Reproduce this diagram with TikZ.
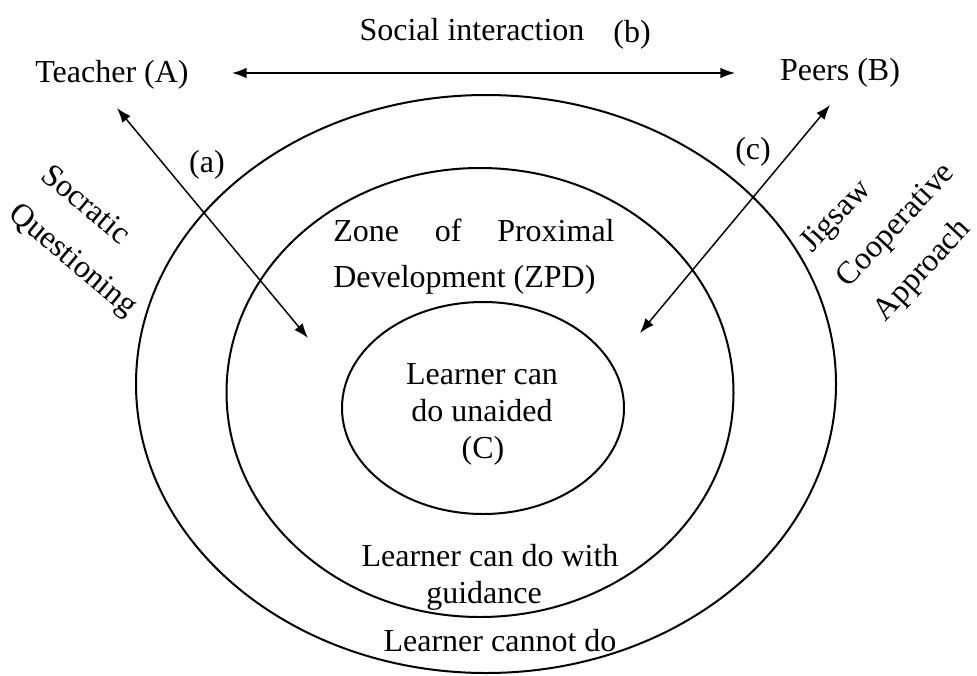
\documentclass[tikz,border=0pt]{standalone}
\usepackage{fontspec}
\setmainfont{Liberation Serif}
\usetikzlibrary{arrows.meta,shapes.geometric}
\begin{document}
\begin{tikzpicture}[x=0.75pt,y=-0.75pt,
  lbl/.style={font=\fontsize{24}{28}\selectfont, inner sep=0pt, anchor=base},
  ring/.style={draw, ellipse, line width=1.5pt, inner sep=0pt},
  conn/.style={{Latex[length=11pt,width=8pt]}-{Latex[length=11pt,width=8pt]}, line width=1.1pt},
  slanted/.style={font=\fontsize{24}{37.5}\selectfont, align=left, inner sep=0pt}]
\useasboundingbox (0,0) rectangle (977,675);

% ellipses
\node[ring, minimum width=525pt, minimum height=433.5pt] (outer) at (486,384) {};
\node[ring, minimum width=380.25pt, minimum height=336.75pt] (middle) at (480,392.5) {};
\node[ring, minimum width=211.5pt, minimum height=159pt] (inner) at (483,408) {};

% top labels
\node[lbl] (social) at (472,40) {Social interaction};
\node[lbl] (b) at (632,42) {(b)};
\node[lbl] (teacher) at (112,82) {Teacher (A)};
\node[lbl] (peers) at (840,80) {Peers (B)};
\coordinate (hl) at (232,73);
\coordinate (hr) at (735,73);
\draw[conn] (hl) -- (hr);

% diagonal arrows
\coordinate (a1) at (117,108);
\coordinate (a2) at (308,338);
\draw[conn] (a1) -- (a2);
\coordinate (c1) at (830,105);
\coordinate (c2) at (640,333);
\draw[conn] (c1) -- (c2);
\node[lbl] (la) at (207,172) {(a)};
\node[lbl] (lc) at (753,159) {(c)};

% rotated labels
\node[slanted, rotate=-40] (socratic) at (88,242) {Socratic\\Questioning};
\node[slanted, rotate=47] (jigsaw) at (897,226) {Jigsaw\\Cooperative\\Approach};

% ZPD text
\node[lbl, anchor=base west] (zone) at (333,241) {\makebox[211pt][s]{Zone of Proximal}};
\node[lbl, anchor=base west] (dev) at (333,287) {Development (ZPD)};

% inner text
\node[lbl] (c1t) at (482,384) {Learner can};
\node[lbl] (c2t) at (482,421) {do unaided};
\node[lbl] (c3t) at (483,458) {(C)};

% middle ring text
\node[lbl] (g1) at (490,566) {Learner can do with};
\node[lbl] (g2) at (484,603) {guidance};
\node[lbl] (cannot) at (500,651) {Learner cannot do};
\end{tikzpicture}
\end{document}
